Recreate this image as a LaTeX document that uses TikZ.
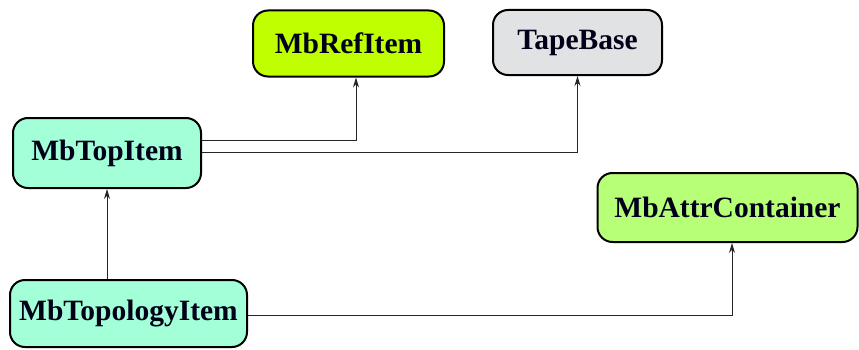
\documentclass[tikz,border=0pt]{standalone}
\usepackage{fontspec}
\setmainfont{Liberation Serif}
\usetikzlibrary{arrows.meta}
\definecolor{cRef}{HTML}{C0FF00}
\definecolor{cTape}{HTML}{E0E2E4}
\definecolor{cTop}{HTML}{A2FFD8}
\definecolor{cAttr}{HTML}{B8FF78}
\tikzset{
  box/.style={draw=black, line width=2pt, rounded corners=15pt, inner sep=0pt,
    font=\fontsize{29.5}{32}\selectfont\bfseries, text=black!90!blue},
  conn/.style={draw=black!85, line width=0.9pt, -{Stealth[length=10pt,width=6pt]}}
}
\begin{document}
\begin{tikzpicture}[x=1pt,y=1pt]
\useasboundingbox (0,0) rectangle (859,349);
\node[box, fill=cRef, minimum width=191pt, minimum height=66pt] (ref) at (348.5,305.5) {MbRefItem};
\node[box, fill=cTape, minimum width=169pt, minimum height=65pt] (tape) at (577.5,306.5) {TapeBase};
\node[box, fill=cTop, minimum width=188pt, minimum height=70pt] (top) at (107,196) {MbTopItem};
\node[box, fill=cTop, minimum width=237pt, minimum height=67pt] (topo) at (128.5,35.5) {MbTopologyItem};
\node[box, fill=cAttr, minimum width=260pt, minimum height=69pt] (attr) at (727.5,141.5) {MbAttrContainer};
\draw[conn] ([yshift=13pt]top.east) -| ([xshift=7.5pt]ref.south);
\draw[conn] ([yshift=1pt]top.east) -| (tape.south);
\draw[conn] (topo.north -| top.south) -- (top.south);
\draw[conn] ([yshift=-2pt]topo.east) -| ([xshift=4.5pt]attr.south);
\end{tikzpicture}
\end{document}
